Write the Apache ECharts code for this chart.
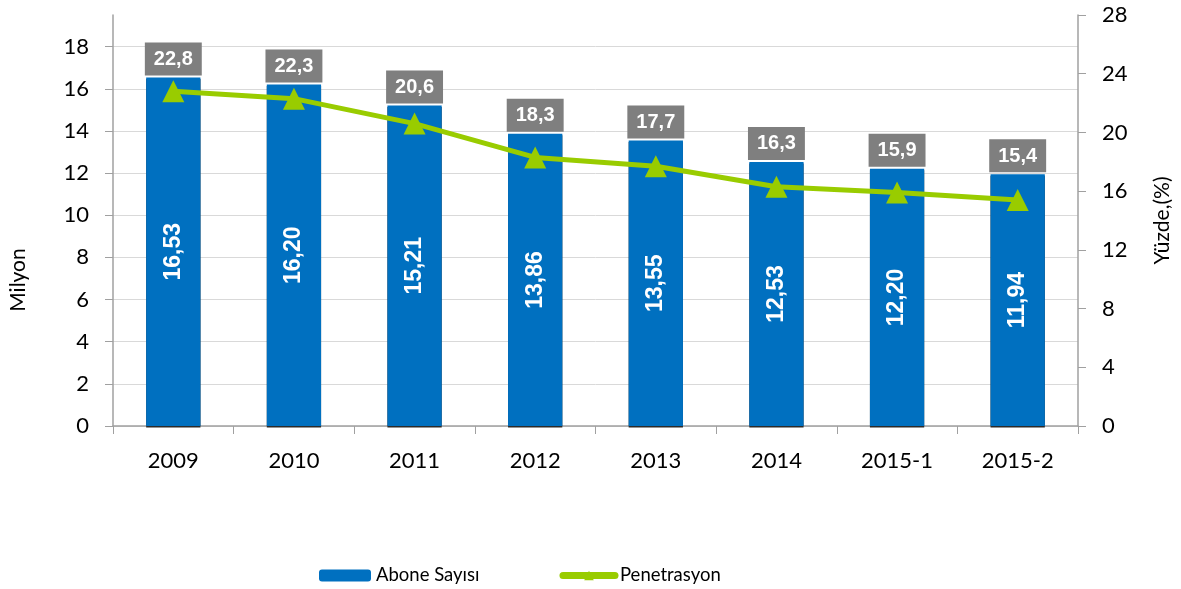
<!DOCTYPE html>
<html>
<head>
<meta charset="utf-8">
<script src="https://cdn.jsdelivr.net/npm/echarts@6/dist/echarts.min.js"></script>
<style>html,body{margin:0;padding:0;background:#fff}#c{width:1181px;height:589px}</style>
</head>
<body>
<div id="c"></div>
<script>
const categories = ['2009','2010','2011','2012','2013','2014','2015-1','2015-2'];
const aboneSayisi = [16.53,16.20,15.21,13.86,13.55,12.53,12.20,11.94];
const penetrasyon = [22.8,22.3,20.6,18.3,17.7,16.3,15.9,15.4];
const leftTicks = [0,2,4,6,8,10,12,14,16,18];
const rightTicks = [0,4,8,12,16,20,24,28];

const fmt = (v, d) => v.toFixed(d).replace('.', ',');
const axisFont = 'Lato, "Open Sans", sans-serif';
const boldFont = '"Liberation Sans", Arial, sans-serif';
const chart = echarts.init(document.getElementById('c'));
chart.setOption({
  animation: false,
  grid: {left: 113, right: 99, top: 15, bottom: 163},
  legend: {
    left: 319, top: 566, padding: 0, itemWidth: 52, itemHeight: 12, itemGap: 80,
    data: [
      {name: 'Abone Sayısı'},
      {name: 'Penetrasyon', lineStyle: {width: 7, cap: 'round', color: '#99CC00'}, itemStyle: {color: '#99CC00'}}
    ],
    textStyle: {fontFamily: axisFont, fontSize: 18.5, color: '#000', padding: [0,0,0,0]}
  },
  xAxis: {
    type: 'category', data: categories,
    axisLine: {lineStyle: {color: '#A0A0A0', width: 1.5}},
    axisTick: {show: true, length: 8, lineStyle: {color: '#A0A0A0'}},
    axisLabel: {fontFamily: axisFont, fontSize: 22, color: '#000', margin: 24}
  },
  yAxis: [{
    type: 'value', min: 0, max: 19.5, interval: 2,
    axisLine: {show: true, lineStyle: {color: '#A0A0A0', width: 1.5}},
    axisTick: {show: true, length: 8, lineStyle: {color: '#A0A0A0'}},
    axisLabel: {fontFamily: axisFont, fontSize: 22, color: '#000', margin: 24,
      showMaxLabel: false,
      formatter: v => leftTicks.includes(v) ? String(v) : ''},
    splitLine: {show: true, showMaxLine: false, lineStyle: {color: '#D9D9D9', width: 1}}
  }, {
    type: 'value', min: 0, max: 28, interval: 4,
    name: 'Yüzde,(%)', nameLocation: 'middle', nameRotate: 90, nameGap: 74,
    nameTextStyle: {fontFamily: axisFont, fontSize: 21, color: '#000'},
    axisLine: {show: true, lineStyle: {color: '#A0A0A0', width: 1.5}},
    axisTick: {show: true, length: 8, lineStyle: {color: '#A0A0A0'}},
    axisLabel: {fontFamily: axisFont, fontSize: 22, color: '#000', margin: 24,
      formatter: v => rightTicks.includes(v) ? String(v) : ''},
    splitLine: {show: false}
  }],
  graphic: [{
    type: 'text', x: 8, y: 280, rotation: Math.PI / 2,
    style: {text: 'Milyon', font: '21px ' + axisFont, fill: '#000', align: 'center', verticalAlign: 'top'}
  }],
  series: [{
    name: 'Abone Sayısı', type: 'bar', data: aboneSayisi, barWidth: '45%',
    itemStyle: {color: '#0070C0', shadowColor: '#2B2B2B', shadowOffsetY: 1.5, shadowBlur: 0},
    label: {show: true, position: 'inside', rotate: 90, formatter: p => fmt(p.value, 2),
      color: '#fff', fontWeight: 'bold', fontSize: 23, fontFamily: boldFont}
  }, {
    name: 'pen-label', type: 'bar', data: aboneSayisi, barWidth: '45%', barGap: '-100%',
    itemStyle: {color: 'rgba(0,0,0,0)'}, silent: true, z: 5,
    label: {show: true, position: 'top', distance: 2,
      formatter: p => fmt(penetrasyon[p.dataIndex], 1),
      backgroundColor: '#7F7F7F', color: '#fff', fontWeight: 'bold', fontSize: 20, lineHeight: 20,
      padding: [7, 9, 6, 9], fontFamily: boldFont}
  }, {
    name: 'Penetrasyon', type: 'line', yAxisIndex: 1, data: penetrasyon, z: 10,
    symbol: 'triangle', symbolSize: 22,
    lineStyle: {color: '#99CC00', width: 5},
    itemStyle: {color: '#99CC00'}
  }]
});
</script>
</body>
</html>
